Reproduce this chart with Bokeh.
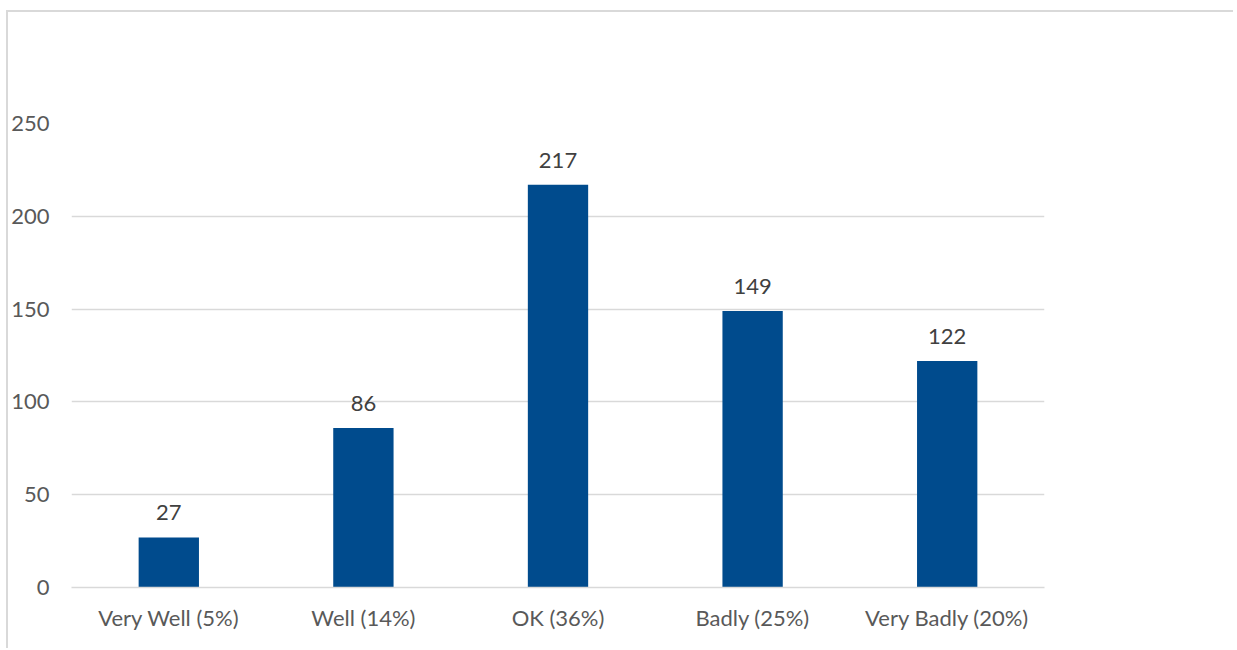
from bokeh.plotting import figure
from bokeh.models import Range1d, FixedTicker, ColumnDataSource, LabelSet
from bokeh.core.properties import value
from bokeh.embed import file_html
from bokeh.resources import INLINE

categories = ["Very Well (5%)", "Well (14%)", "OK (36%)", "Badly (25%)", "Very Badly (20%)"]
counts = [27, 86, 217, 149, 122]
y_ticks = [0, 50, 100, 150, 200, 250]

FONT = "Lato"

src = ColumnDataSource(dict(cat=categories, val=counts, lab=[str(v) for v in counts]))

p = figure(x_range=categories, y_range=Range1d(0, 250), width=1227, height=638,
           output_backend="svg", toolbar_location=None,
           min_border_left=62, min_border_right=191, min_border_top=111, min_border_bottom=63)
p.styles = {"border-top": "2px solid #d9d9d9", "border-left": "2px solid #d9d9d9",
            "margin-top": "10px", "margin-left": "6px"}

p.vbar(x="cat", top="val", width=0.31, source=src, fill_color="#004b8d", line_color=None)

labels = LabelSet(x="cat", y="val", text="lab", source=src, text_align="center",
                  text_baseline="alphabetic", y_offset=17, text_font=value(FONT),
                  text_font_size="22px", text_color="#404040")
p.add_layout(labels)

p.outline_line_color = None
p.xgrid.grid_line_color = None
p.ygrid.grid_line_color = "#d9d9d9"
p.ygrid.grid_line_width = 1.5
p.yaxis.ticker = FixedTicker(ticks=y_ticks)

p.yaxis.axis_line_color = None
p.yaxis.major_tick_line_color = None
p.yaxis.minor_tick_line_color = None
p.yaxis.major_label_standoff = 16
p.yaxis.major_label_text_font = FONT
p.yaxis.major_label_text_font_size = "22px"
p.yaxis.major_label_text_color = "#595959"

p.xaxis.axis_line_color = "#d9d9d9"
p.xaxis.axis_line_width = 1.5
p.xaxis.major_tick_line_color = None
p.xaxis.minor_tick_line_color = None
p.xaxis.major_label_standoff = 10
p.xaxis.major_label_text_font = FONT
p.xaxis.major_label_text_font_size = "22px"
p.xaxis.major_label_text_color = "#595959"

p.x_range.range_padding = 0

open("out.html", "w").write(file_html(p, INLINE))
